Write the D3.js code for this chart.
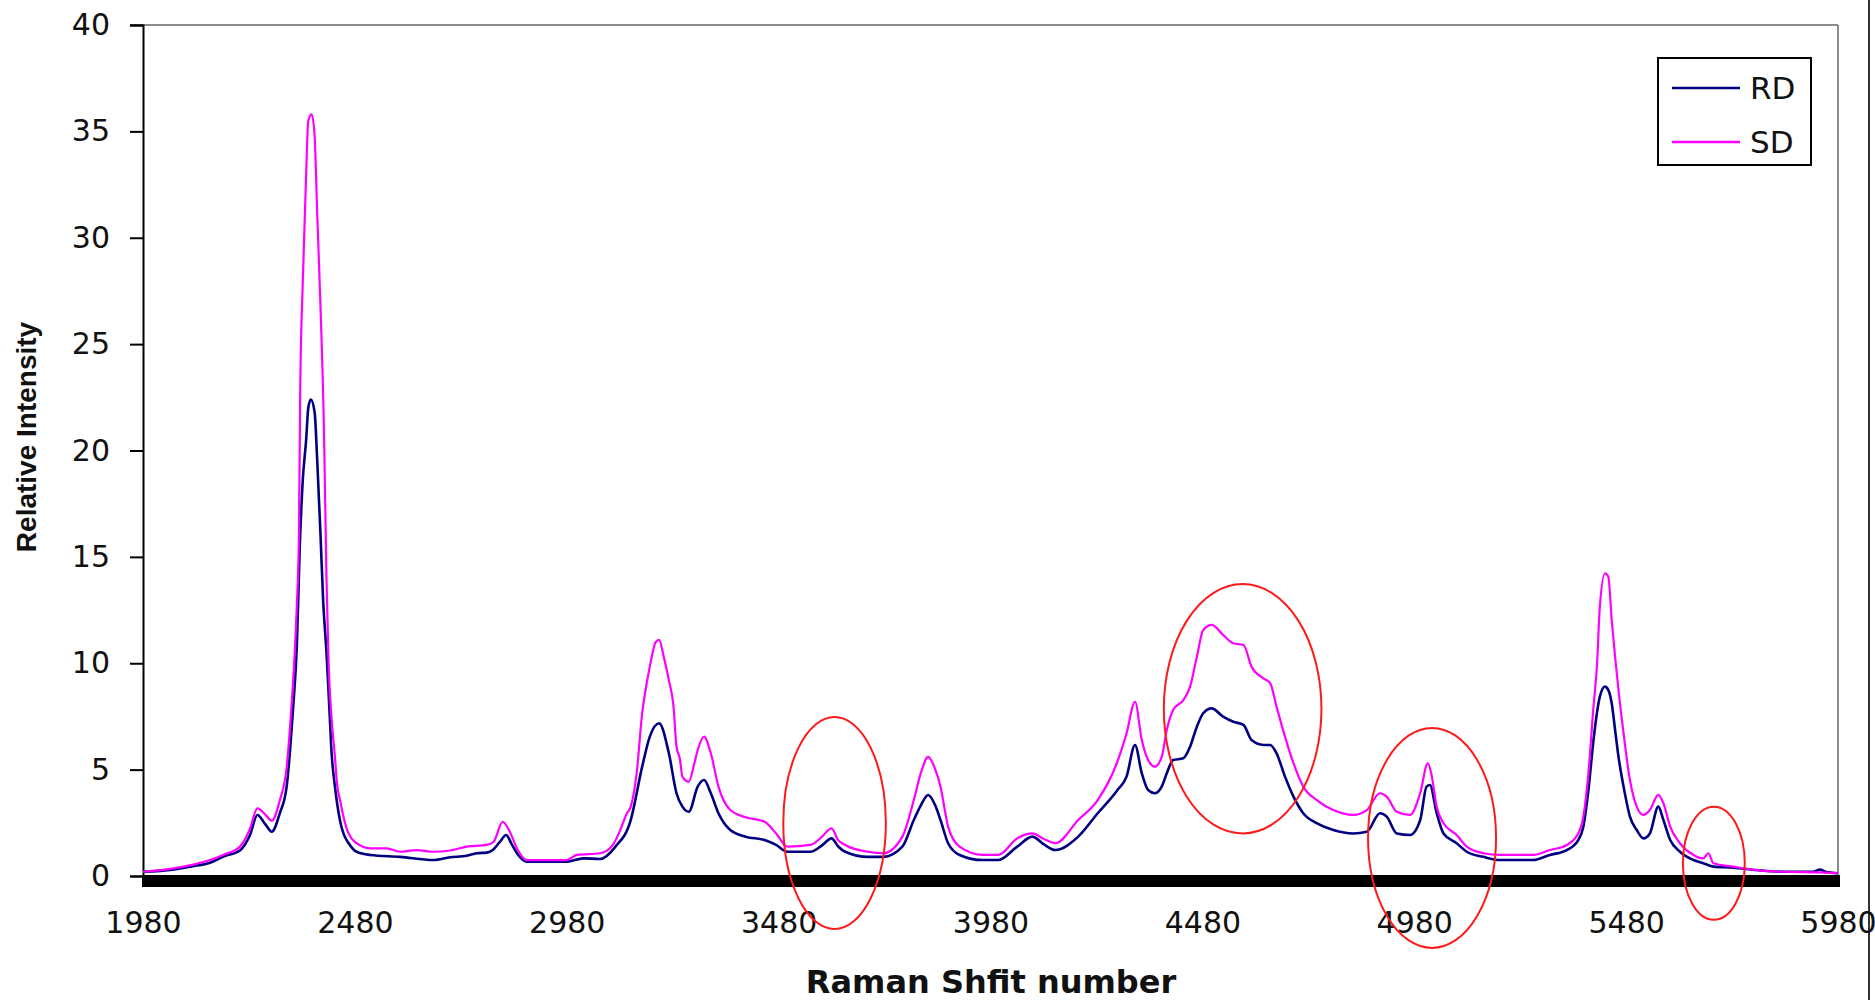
<!DOCTYPE html>
<html>
<head>
<meta charset="utf-8">
<script src="https://cdn.jsdelivr.net/npm/d3@7"></script>
<style>
  body { margin: 0; background: #fff; }
  svg { display: block; }
</style>
</head>
<body>
<svg id="chart"></svg>
<script>
// Raman spectra
var rdShift = [1980, 2050, 2095, 2138, 2170, 2209, 2232, 2250, 2268, 2284, 2303, 2319, 2327, 2335, 2343, 2350, 2357, 2365, 2370, 2376,
  2385, 2391, 2399, 2405, 2413, 2420, 2425, 2433, 2445, 2453, 2465, 2484, 2516, 2587, 2665, 2705, 2744, 2768, 2791, 2807,
  2822, 2837, 2850, 2865, 2886, 2940, 2980, 3019, 3059, 3095, 3131, 3158, 3176, 3198, 3221, 3239, 3253, 3268, 3289, 3304,
  3320, 3338, 3366, 3402, 3447, 3474, 3501, 3555, 3580, 3605, 3620, 3637, 3691, 3727, 3772, 3799, 3815, 3833, 3850, 3862,
  3880, 3907, 3962, 3998, 4043, 4079, 4105, 4133, 4187, 4233, 4278, 4301, 4321, 4337, 4352, 4368, 4384, 4396, 4411, 4435,
  4451, 4467, 4482, 4502, 4529, 4553, 4577, 4596, 4624, 4640, 4655, 4675, 4695, 4718, 4750, 4789, 4836, 4868, 4899, 4915,
  4939, 4970, 4994, 5009, 5017, 5033, 5049, 5080, 5104, 5143, 5182, 5261, 5300, 5340, 5367, 5379, 5391, 5403, 5411, 5418,
  5430, 5438, 5446, 5454, 5462, 5474, 5489, 5505, 5521, 5536, 5556, 5568, 5584, 5607, 5639, 5662, 5686, 5733, 5788, 5851,
  5920, 5938, 5950, 5980];
var rdIntensity = [0.20, 0.30, 0.45, 0.62, 0.92, 1.20, 1.9, 2.87, 2.45, 2.08, 2.96, 4.2, 5.9, 8.1, 10.8, 15.5, 18.6, 20.5, 22.0, 22.4,
  21.8, 19.6, 16.0, 13.0, 10.5, 7.8, 5.8, 4.2, 2.6, 2.0, 1.55, 1.14, 0.99, 0.90, 0.75, 0.88, 0.95, 1.07, 1.10, 1.25,
  1.6, 1.93, 1.5, 1.0, 0.67, 0.67, 0.67, 0.83, 0.80, 1.38, 2.63, 5.14, 6.55, 7.18, 5.77, 3.89, 3.26, 3.02, 4.2, 4.51,
  3.89, 2.95, 2.16, 1.85, 1.69, 1.46, 1.14, 1.14, 1.4, 1.77, 1.4, 1.14, 0.90, 0.90, 1.38, 2.63, 3.3, 3.81, 3.3, 2.63,
  1.54, 0.99, 0.75, 0.75, 1.38, 1.85, 1.5, 1.22, 1.85, 2.95, 4.0, 4.67, 6.16, 4.83, 4.04, 3.89, 4.2, 4.83, 5.45, 5.53,
  6.08, 7.02, 7.65, 7.88, 7.49, 7.25, 7.1, 6.39, 6.16, 6.16, 5.77, 4.67, 3.73, 2.95, 2.48, 2.16, 2.0, 2.08, 2.95, 2.79,
  2.0, 1.93, 2.63, 4.2, 4.28, 2.95, 2.0, 1.54, 1.14, 0.90, 0.75, 0.75, 0.99, 1.22, 1.69, 2.32, 4.04, 6.39, 7.65, 8.43,
  8.9, 8.74, 8.12, 6.86, 5.6, 4.2, 2.79, 2.16, 1.77, 2.0, 3.26, 2.63, 1.69, 1.14, 0.75, 0.60, 0.44, 0.39, 0.28, 0.20,
  0.20, 0.30, 0.20, 0.13];

var sdShift = [1980, 2053, 2096, 2138, 2169, 2209, 2232, 2250, 2268, 2284, 2303, 2319, 2327, 2335, 2343, 2348, 2351, 2357, 2365, 2370,
  2378, 2385, 2391, 2399, 2407, 2413, 2418, 2425, 2433, 2438, 2445, 2453, 2465, 2484, 2516, 2555, 2587, 2625, 2665, 2705,
  2744, 2791, 2807, 2829, 2845, 2865, 2886, 2940, 2980, 3004, 3059, 3090, 3105, 3122, 3131, 3145, 3158, 3170, 3176, 3190,
  3198, 3209, 3221, 3232, 3239, 3247, 3253, 3268, 3280, 3289, 3304, 3320, 3338, 3366, 3402, 3447, 3474, 3501, 3555, 3580,
  3605, 3620, 3637, 3691, 3727, 3772, 3799, 3815, 3833, 3848, 3862, 3880, 3907, 3962, 3998, 4043, 4079, 4105, 4133, 4187,
  4233, 4278, 4301, 4321, 4337, 4352, 4368, 4384, 4396, 4411, 4435, 4451, 4467, 4482, 4502, 4529, 4553, 4577, 4596, 4624,
  4640, 4655, 4675, 4695, 4718, 4750, 4789, 4836, 4868, 4899, 4915, 4939, 4970, 4994, 5012, 5020, 5033, 5049, 5080, 5104,
  5143, 5182, 5261, 5300, 5340, 5367, 5379, 5391, 5403, 5411, 5418, 5430, 5438, 5446, 5454, 5462, 5474, 5489, 5505, 5521,
  5536, 5556, 5568, 5584, 5607, 5639, 5662, 5674, 5686, 5733, 5788, 5851, 5938, 5980];
var sdIntensity = [0.20, 0.36, 0.52, 0.75, 0.99, 1.38, 2.2, 3.18, 2.9, 2.6, 3.57, 5.1, 7.0, 9.4, 12.7, 16.0, 22.8, 27.9, 33.0, 35.5,
  35.8, 34.8, 31.2, 26.7, 21.0, 14.0, 10.0, 7.4, 5.6, 4.3, 3.57, 2.8, 2.0, 1.54, 1.30, 1.30, 1.14, 1.22, 1.14, 1.2,
  1.38, 1.46, 1.6, 2.55, 2.1, 1.2, 0.75, 0.75, 0.75, 0.99, 1.07, 1.5, 2.1, 2.95, 3.26, 4.83, 7.65, 9.2, 9.84, 11.0,
  11.1, 10.3, 9.2, 7.96, 6.08, 5.5, 4.67, 4.43, 5.2, 5.92, 6.55, 5.77, 4.2, 3.1, 2.76, 2.55, 2.0, 1.38, 1.46, 1.8,
  2.24, 1.7, 1.46, 1.14, 1.07, 1.85, 3.57, 4.8, 5.6, 5.1, 4.2, 2.32, 1.38, 0.99, 0.99, 1.77, 2.0, 1.75, 1.54, 2.63,
  3.57, 5.3, 6.7, 8.19, 6.39, 5.45, 5.14, 5.6, 6.86, 7.8, 8.27, 8.9, 10.3, 11.56, 11.8, 11.33, 10.94, 10.86, 9.84, 9.29,
  9.06, 7.96, 6.55, 5.3, 4.2, 3.57, 3.1, 2.87, 3.1, 3.89, 3.73, 3.02, 2.87, 3.89, 5.3, 4.83, 3.26, 2.48, 1.93, 1.38,
  1.07, 0.99, 0.99, 1.22, 1.46, 2.0, 2.79, 4.83, 7.96, 9.84, 12.66, 14.23, 14.07, 12.03, 10.3, 8.74, 6.7, 4.51, 3.26, 2.87,
  3.1, 3.81, 3.42, 2.32, 1.54, 0.99, 0.83, 1.07, 0.60, 0.44, 0.28, 0.20, 0.17, 0.13];

var seriesNames = ["RD", "SD"];
var yTicks = [0, 5, 10, 15, 20, 25, 30, 35, 40];
var xTicks = [1980, 2480, 2980, 3480, 3980, 4480, 4980, 5480, 5980];

// red hand-drawn rings, in data units
var ringShift = [3612, 4575, 5022, 5687];
var ringLevel = [2.49, 7.86, 1.79, 0.6];
var ringHalfWidth = [121, 186, 151, 73];
var ringHalfHeight = [4.98, 5.86, 5.17, 2.66];

var width = 1875, height = 1000;
var plotLeft = 143, plotRight = 1838, plotTop = 25, plotBottom = 876;

var x = d3.scaleLinear().domain([1980, 5980]).range([plotLeft, plotRight]);
var y = d3.scaleLinear().domain([0, 40]).range([plotBottom, plotTop]);

var svg = d3.select("#chart")
    .attr("width", width)
    .attr("height", height);

// plot frame (grey top and right)
svg.append("line")
    .attr("x1", 130).attr("x2", plotRight)
    .attr("y1", plotTop).attr("y2", plotTop)
    .attr("stroke", "#8c8c8c").attr("stroke-width", 2);
svg.append("line")
    .attr("x1", plotRight).attr("x2", plotRight)
    .attr("y1", plotTop).attr("y2", plotBottom)
    .attr("stroke", "#8c8c8c").attr("stroke-width", 2);

// outer edge on the far right
svg.append("line")
    .attr("x1", 1869).attr("x2", 1869)
    .attr("y1", 0).attr("y2", height)
    .attr("stroke", "#333").attr("stroke-width", 2);

// y axis
var yAxis = d3.axisLeft(y).tickValues(yTicks).tickSize(13).tickPadding(20);
var gy = svg.append("g")
    .attr("transform", "translate(" + plotLeft + ",0)")
    .call(yAxis);
gy.select(".domain").attr("stroke", "#000").attr("stroke-width", 2);
gy.selectAll(".tick line").attr("stroke", "#000").attr("stroke-width", 2);
gy.selectAll(".tick text")
    .attr("font-family", "DejaVu Sans")
    .attr("font-size", 30)
    .attr("fill", "#111");

// x axis: labels only, the thick black bar is drawn below
var xAxis = d3.axisBottom(x).tickValues(xTicks).tickSize(0).tickPadding(36).tickFormat(d3.format("d"));
var gx = svg.append("g")
    .attr("transform", "translate(0," + plotBottom + ")")
    .call(xAxis);
gx.select(".domain").remove();
gx.selectAll(".tick text")
    .attr("font-family", "DejaVu Sans")
    .attr("font-size", 30)
    .attr("fill", "#111");

// series
var lineRD = d3.line()
    .x(function(d, i) { return x(rdShift[i]); })
    .y(function(d) { return y(d); })
    .curve(d3.curveMonotoneX);
var lineSD = d3.line()
    .x(function(d, i) { return x(sdShift[i]); })
    .y(function(d) { return y(d); })
    .curve(d3.curveMonotoneX);

svg.append("path")
    .datum(rdIntensity)
    .attr("d", lineRD)
    .attr("fill", "none")
    .attr("stroke", "#000080")
    .attr("stroke-width", 2.6)
    .attr("stroke-linejoin", "round");

svg.append("path")
    .datum(sdIntensity)
    .attr("d", lineSD)
    .attr("fill", "none")
    .attr("stroke", "#ff00ff")
    .attr("stroke-width", 2.2)
    .attr("stroke-linejoin", "round");

// thick black bar along zero
svg.append("rect")
    .attr("x", plotLeft - 1)
    .attr("y", y(0) - 1)
    .attr("width", plotRight - plotLeft + 3)
    .attr("height", 12)
    .attr("fill", "#000");

// red rings
svg.selectAll(".ring")
    .data(ringShift)
    .enter().append("ellipse")
    .attr("class", "ring")
    .attr("cx", function(d) { return x(d); })
    .attr("cy", function(d, i) { return y(ringLevel[i]); })
    .attr("rx", function(d, i) { return x(d + ringHalfWidth[i]) - x(d); })
    .attr("ry", function(d, i) { return y(0) - y(ringHalfHeight[i]); })
    .attr("fill", "none")
    .attr("stroke", "#ff1a1a")
    .attr("stroke-width", 2);

// axis titles
svg.append("text")
    .attr("x", 991)
    .attr("y", 993)
    .attr("text-anchor", "middle")
    .attr("font-family", "DejaVu Sans")
    .attr("font-weight", "bold")
    .attr("font-size", 32)
    .attr("fill", "#111")
    .text("Raman Shfit number");

svg.append("text")
    .attr("transform", "translate(36,437)rotate(-90)")
    .attr("text-anchor", "middle")
    .attr("font-family", "Liberation Sans")
    .attr("font-weight", "bold")
    .attr("font-size", 28)
    .attr("fill", "#111")
    .text("Relative Intensity");

// legend
var legendColors = ["#000080", "#ff00ff"];
var legend = svg.append("g").attr("transform", "translate(1658,58)");
legend.append("rect")
    .attr("width", 153)
    .attr("height", 107)
    .attr("fill", "#fff")
    .attr("stroke", "#000")
    .attr("stroke-width", 2);
var item = legend.selectAll(".item")
    .data(seriesNames)
    .enter().append("g")
    .attr("class", "item")
    .attr("transform", function(d, i) { return "translate(0," + (30 + i * 54) + ")"; });
item.append("line")
    .attr("x1", 14).attr("x2", 82)
    .attr("stroke", function(d, i) { return legendColors[i]; })
    .attr("stroke-width", 2.5);
item.append("text")
    .attr("x", 92)
    .attr("y", 11)
    .attr("font-family", "DejaVu Sans")
    .attr("font-size", 31)
    .attr("fill", "#111")
    .text(function(d) { return d; });
</script>
</body>
</html>
